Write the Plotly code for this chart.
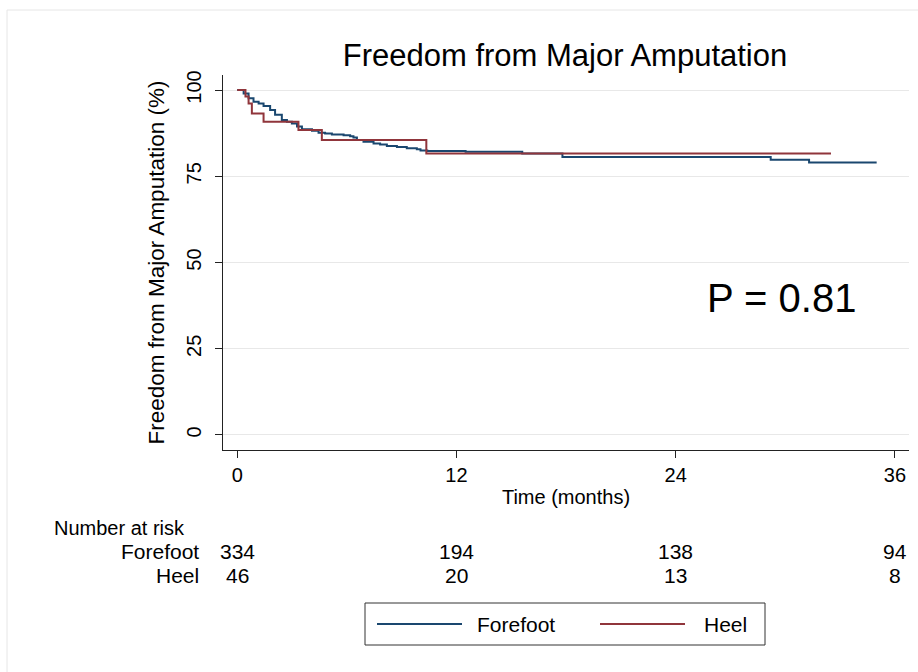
import plotly.graph_objects as go

# ---- data ----
forefoot_t = [0, 0.35, 0.62, 0.89, 1.17, 1.44, 1.80, 2.07, 2.44, 2.72, 2.99, 3.27, 3.54,
              4.09, 4.45, 4.81, 5.18, 5.82, 6.18, 6.36, 6.55, 6.91, 7.46, 7.82, 8.19,
              8.74, 9.28, 9.83, 10.03, 10.4, 12.5, 15.6, 17.8, 29.2, 31.3, 35.0]
forefoot_s = [100, 99.0, 97.6, 96.6, 96.1, 95.4, 94.2, 92.8, 91.3, 90.8, 90.3, 89.4, 88.6,
              88.2, 87.6, 87.4, 87.1, 86.9, 86.6, 86.2, 85.5, 85.0, 84.5, 84.2, 83.8,
              83.5, 83.1, 82.8, 82.5, 82.3, 82.1, 81.6, 80.6, 79.8, 79.0, 79.0]
heel_t = [0, 0.45, 0.62, 0.80, 1.44, 3.35, 4.63, 10.35, 32.5]
heel_s = [100, 98.1, 96.1, 93.2, 90.8, 88.4, 85.5, 81.6, 81.6]

x_ticks = [0, 12, 24, 36]
y_ticks = [0, 25, 50, 75, 100]
risk_groups = ["Forefoot", "Heel"]
risk_forefoot = [334, 194, 138, 94]
risk_heel = [46, 20, 13, 8]
p_text = "P = 0.81"

BLUE = "#1a476f"
RED = "#90353b"
FONT = "Liberation Sans, Arial, sans-serif"

W, H = 918, 672
L, R, T, B = 223, 909, 75, 450  # plot area in pixels


def px(xp):
    return (xp - L) / (R - L)


def py(yp):
    return (B - yp) / (B - T)


fig = go.Figure()
fig.add_trace(go.Scatter(x=forefoot_t, y=forefoot_s, mode="lines", line_shape="hv",
                         line=dict(color=BLUE, width=2), name="Forefoot", showlegend=False))
fig.add_trace(go.Scatter(x=heel_t, y=heel_s, mode="lines", line_shape="hv",
                         line=dict(color=RED, width=2), name="Heel", showlegend=False))

annotations = []
# P value
annotations.append(dict(x=25.6, y=39.7, xref="x", yref="y", text=p_text, showarrow=False,
                        xanchor="left", yanchor="middle", font=dict(size=40, color="black", family=FONT)))
# Number at risk table
annotations.append(dict(x=px(52), y=py(528), xref="paper", yref="paper", text="Number at risk",
                        showarrow=False, xanchor="left", yanchor="middle",
                        font=dict(size=20, color="black", family=FONT)))
for row_y, name, vals in [(551, risk_groups[0], risk_forefoot), (575, risk_groups[1], risk_heel)]:
    annotations.append(dict(x=px(201), y=py(row_y), xref="paper", yref="paper", text=name,
                            showarrow=False, xanchor="right", yanchor="middle",
                            font=dict(size=21, color="black", family=FONT)))
    for xv, v in zip(x_ticks, vals):
        annotations.append(dict(x=xv, y=py(row_y), xref="x", yref="paper", text=str(v),
                                showarrow=False, xanchor="center", yanchor="middle",
                                font=dict(size=21, color="black", family=FONT)))

# legend (manual, Stata style)
shapes = [
    dict(type="rect", xref="paper", yref="paper", x0=px(365), x1=px(765), y0=py(603), y1=py(645),
         line=dict(color="#333333", width=1), fillcolor="white"),
    dict(type="line", xref="paper", yref="paper", x0=px(377), x1=px(462), y0=py(624), y1=py(624),
         line=dict(color=BLUE, width=2)),
    dict(type="line", xref="paper", yref="paper", x0=px(600), x1=px(685), y0=py(624), y1=py(624),
         line=dict(color=RED, width=2)),
    # faint outer frame (left and top)
    dict(type="line", xref="paper", yref="paper", x0=px(7), x1=px(7), y0=py(10), y1=py(672),
         line=dict(color="#e6e6e6", width=1)),
    dict(type="line", xref="paper", yref="paper", x0=px(7), x1=px(918), y0=py(10), y1=py(10),
         line=dict(color="#e6e6e6", width=1)),
]
annotations.append(dict(x=px(475), y=py(624), xref="paper", yref="paper", text="Forefoot",
                        showarrow=False, xanchor="left", yanchor="middle",
                        font=dict(size=21, color="black", family=FONT)))
annotations.append(dict(x=px(702), y=py(624), xref="paper", yref="paper", text="Heel",
                        showarrow=False, xanchor="left", yanchor="middle",
                        font=dict(size=21, color="black", family=FONT)))

fig.update_layout(
    width=W, height=H, autosize=False,
    margin=dict(l=L, r=W - R, t=T, b=H - B, pad=0),
    paper_bgcolor="white", plot_bgcolor="white",
    font=dict(family=FONT, color="black"),
    title=dict(text="Freedom from Major Amputation", x=(340 + 790) / 2 / W, xref="container",
               xanchor="center", y=1 - 55 / H, yref="container", yanchor="middle",
               font=dict(size=31, color="black", family=FONT)),
    showlegend=False,
    annotations=annotations,
    shapes=shapes,
    xaxis=dict(range=[-0.78, 36.77], tickvals=x_ticks, ticktext=[str(v) for v in x_ticks],
               showgrid=False, zeroline=False, showline=True, linecolor="#222222", linewidth=1,
               ticks="outside", ticklen=7, tickcolor="#222222",
               tickfont=dict(size=20, color="black"),
               title=dict(text="Time (months)", font=dict(size=20, color="black"), standoff=4)),
    yaxis=dict(range=[-4.35, 104.35], tickvals=y_ticks, ticktext=[str(v) for v in y_ticks],
               showgrid=True, gridcolor="#e8e8e8", gridwidth=1, zeroline=False,
               showline=True, linecolor="#222222", linewidth=1,
               ticks="outside", ticklen=7, tickcolor="#222222", tickangle=-90,
               ticklabelstandoff=6,
               tickfont=dict(size=20, color="black"),
               title=dict(text="Freedom from Major Amputation (%)", font=dict(size=22.5, color="black"),
                          standoff=12)),
)

fig.write_html("out.html")
